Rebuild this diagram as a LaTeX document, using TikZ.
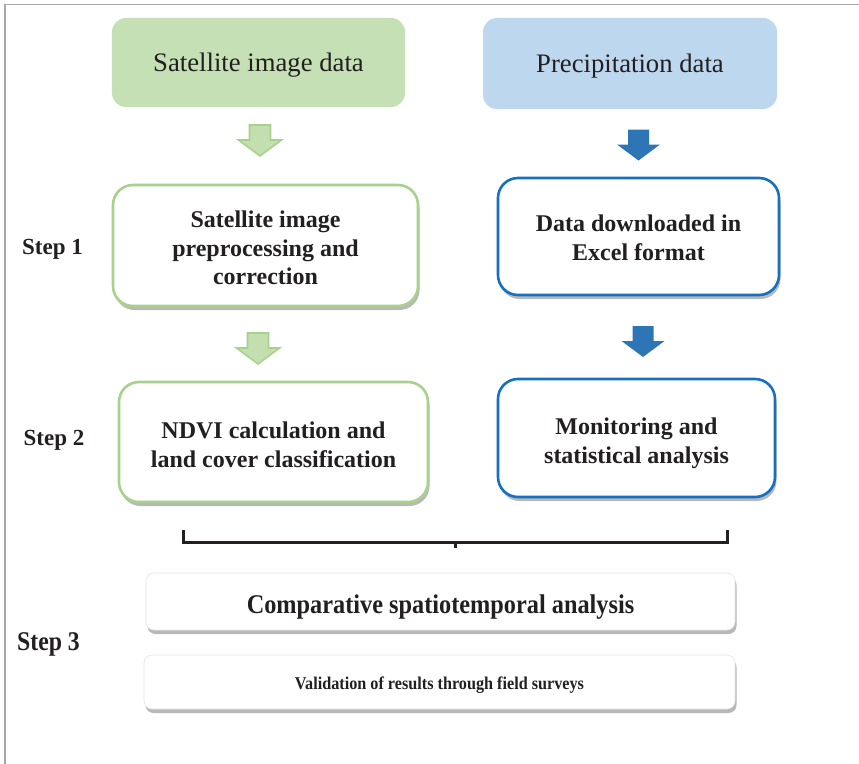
\documentclass[tikz,border=0pt]{standalone}
\usepackage{fontspec}
\usepackage{graphicx}
\setmainfont{Liberation Serif}
\usetikzlibrary{shadows}
\definecolor{gfill}{HTML}{C5E0B4}
\definecolor{bfill}{HTML}{BDD7EE}
\definecolor{gline}{HTML}{A9D18E}
\definecolor{garrowfill}{HTML}{C3DFB0}
\definecolor{bline}{HTML}{1670C0}
\definecolor{barrow}{HTML}{2E75B6}
\definecolor{ink}{HTML}{231F20}
\definecolor{framegray}{HTML}{A6A6A6}
\newcommand\mylines[2]{\raisebox{-#1bp}[\height][\depth]{\begin{tabular}{@{}c@{}}#2\end{tabular}}}
\newcommand\mylower[2]{\raisebox{-#1bp}[\height][\depth]{#2}}
\begin{document}
\begin{tikzpicture}[x=1bp,y=-1bp,
  shadowed/.style={drop shadow={shadow xshift=1.5bp,shadow yshift=-4bp,opacity=.28,fill=black}},
  topbox/.style={rectangle,rounded corners=14bp,text=ink,inner sep=0pt,
    font=\fontsize{26.7bp}{32bp}\selectfont},
  stepbox/.style={rectangle,rounded corners=20bp,fill=white,line width=2.6bp,text=ink,
    inner sep=0pt,shadowed,font=\bfseries\fontsize{24bp}{28.5bp}\selectfont},
  widebox/.style={rectangle,rounded corners=8bp,fill=white,draw=black!10,line width=.6bp,
    text=ink,inner sep=0pt,shadowed},
  steplabel/.style={text=ink,inner sep=0pt,font=\bfseries\fontsize{23bp}{26bp}\selectfont},
  downarrow/.pic={\path[pic actions] (-10.5,0) -- (10.5,0) -- (10.5,15) -- (21.5,15)
      -- (0,31) -- (-21.5,15) -- (-10.5,15) -- cycle;},
  greenarrow/.style={fill=garrowfill,draw=gline,line width=1.6bp,
    drop shadow={shadow xshift=1.5bp,shadow yshift=-3bp,opacity=.2,fill=black}},
  bluearrow/.style={fill=barrow,
    drop shadow={shadow xshift=1.5bp,shadow yshift=-3bp,opacity=.2,fill=black}},
  bracket/.style={draw=ink,line width=3bp}
]
\useasboundingbox (0,0) rectangle (859,764);
\fill[white] (0,0) rectangle (859,764);
% frame
\draw[framegray,line width=1.5bp] (859,4.5) -- (5,4.5) -- (5,764);

% top source boxes
\node[topbox,fill=gfill,minimum width=293bp,minimum height=89bp] (sat) at (258.5,62.5)
  {\mylines{3}{Satellite image data}};
\node[topbox,fill=bfill,minimum width=294bp,minimum height=91bp] (pre) at (630,63.5)
  {\mylines{3}{Precipitation data}};

% block arrows
\pic[greenarrow] at (260,125) {downarrow};
\pic[greenarrow] at (258,333) {downarrow};
\pic[bluearrow] at (638.5,129.5) {downarrow};
\pic[bluearrow] at (643,326) {downarrow};

% step 1
\node[stepbox,draw=gline,minimum width=305bp,minimum height=121bp] (s1l) at (265.5,245.5)
  {\mylines{5}{Satellite image\\preprocessing and\\correction}};
\node[stepbox,draw=bline,minimum width=281bp,minimum height=117bp] (s1r) at (638.5,236.5)
  {\mylines{4}{Data downloaded in\\Excel format}};

% step 2
\node[stepbox,draw=gline,minimum width=309bp,minimum height=120bp] (s2l) at (273.5,442)
  {\mylines{5.5}{NDVI calculation and\\land cover classification}};
\node[stepbox,draw=bline,minimum width=277bp,minimum height=118bp] (s2r) at (636.5,438)
  {\mylines{5.5}{Monitoring and\\statistical analysis}};

% bracket
\coordinate (bl) at (183,530);
\coordinate (br) at (727,530);
\coordinate (bm) at (455,548);
\draw[bracket] (bl) -- ++(0,12) -| (br);
\draw[bracket] (bm) -- ++(0,-6);

% step 3
\node[widebox,minimum width=589bp,minimum height=57bp] (s3a) at (440.5,601.5)
  {\bfseries\fontsize{27bp}{30bp}\selectfont\mylower{6}{\scalebox{0.9}[1]{Comparative spatiotemporal analysis}}};
\node[widebox,minimum width=591bp,minimum height=54bp] (s3b) at (439.5,682)
  {\bfseries\fontsize{18bp}{21bp}\selectfont\mylower{3}{\scalebox{0.9}[1]{Validation of results through field surveys}}};

% step labels
\node[steplabel] (st1) at (52.5,249) {Step 1};
\node[steplabel] (st2) at (54,440.5) {Step 2};
\node[steplabel] (st3) at (48.5,644) {\fontsize{27bp}{30bp}\selectfont\scalebox{0.88}[1]{Step 3}};
\end{tikzpicture}
\end{document}
